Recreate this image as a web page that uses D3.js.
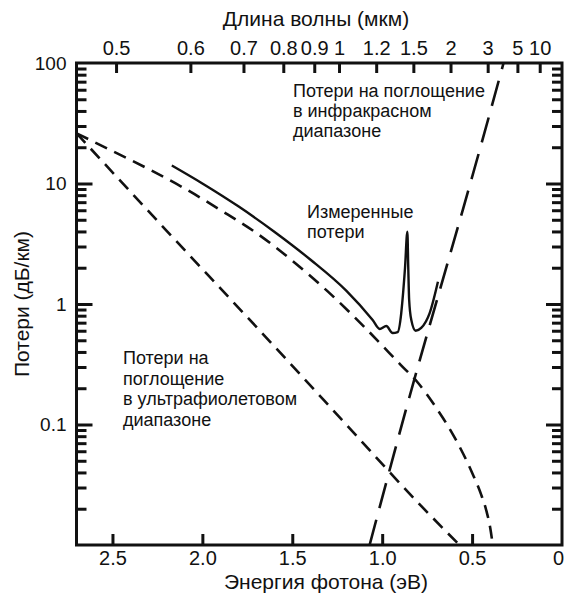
<!DOCTYPE html>
<html><head><meta charset="utf-8">
<script src="https://cdn.jsdelivr.net/npm/d3@7"></script>
<style>
html,body{margin:0;padding:0;background:#fff;}
svg{display:block;font-family:"Liberation Sans",Arial,Helvetica,sans-serif;}
</style></head>
<body>
<svg id="chart" width="566" height="603"></svg>
<script>
// ---- data ----
const energyTicks = [2.5, 2.0, 1.5, 1.0, 0.5, 0];
const energyTickLabels = ["2.5", "2.0", "1.5", "1.0", "0.5", "0"];
const wavelengthTicks = [0.5, 0.6, 0.7, 0.8, 0.9, 1, 1.2, 1.5, 2, 3, 5, 10];
const wavelengthTickLabels = ["0.5", "0.6", "0.7", "0.8", "0.9", "1", "1.2", "1.5", "2", "3", "5", "10"];
const lossTicks = [100, 10, 1, 0.1];
const lossTickLabels = ["100", "10", "1", "0.1"];

// measured loss (solid)
const measuredE    = [2.17, 2.0, 1.8, 1.6, 1.4, 1.2, 1.053, 1.014, 0.977, 0.942, 0.914, 0.894, 0.887, 0.873, 0.860, 0.855, 0.850, 0.838, 0.814, 0.783, 0.736, 0.690];
const measuredLoss = [14.1, 10.0, 6.46, 3.98, 2.34, 1.29, 0.736, 0.621, 0.657, 0.574, 0.585, 0.841, 1.08, 2.0, 3.98, 2.0, 1.08, 0.736, 0.600, 0.633, 0.841, 1.53];

// unlabeled short-dashed curve (upper)
const scatterE    = [2.7, 2.5, 2.3, 2.1, 1.9, 1.7, 1.5, 1.3, 1.1, 0.9, 0.8, 0.7, 0.6, 0.5, 0.45, 0.42, 0.40, 0.385];
const scatterLoss = [26.1, 18.6, 13.2, 9.12, 6.03, 3.89, 2.29, 1.26, 0.646, 0.316, 0.221, 0.138, 0.0794, 0.0398, 0.0263, 0.0191, 0.0141, 0.0100];

// UV absorption (short-dashed)
const uvE    = [2.7, 2.2, 1.7, 1.2, 0.8, 0.57];
const uvLoss = [26.1, 4.07, 0.646, 0.100, 0.0224, 0.0100];

// IR absorption (long-dashed)
const irE    = [1.07, 0.95, 0.85, 0.75, 0.65, 0.55, 0.45, 0.325];
const irLoss = [0.0100, 0.0468, 0.166, 0.562, 1.86, 6.17, 20.9, 100];

// ---- layout ----
const L = 76.5, R = 562, T = 63, B = 545;
const ink = "#111";
const svg = d3.select("#chart");

const x = d3.scaleLinear().domain([2.7, 0]).range([L, R]);
const y = d3.scaleLog().domain([0.01, 100]).range([B, T]);
const HC = 1.24; // eV·µm

svg.append("defs").append("clipPath").attr("id", "clip")
  .append("rect").attr("x", L).attr("y", T).attr("width", R - L).attr("height", B - T);

const zip = (a, b) => a.map((v, i) => [v, b[i]]);
const line = d3.line().x(d => x(d[0])).y(d => y(d[1])).curve(d3.curveMonotoneX);

const plot = svg.append("g").attr("clip-path", "url(#clip)");
plot.append("path").attr("d", line(zip(scatterE, scatterLoss)))
  .attr("fill", "none").attr("stroke", ink).attr("stroke-width", 2.6).attr("stroke-dasharray", "13,8");
plot.append("path").attr("d", line(zip(uvE, uvLoss)))
  .attr("fill", "none").attr("stroke", ink).attr("stroke-width", 2.6).attr("stroke-dasharray", "13,8");
plot.append("path").attr("d", line(zip(irE, irLoss)))
  .attr("fill", "none").attr("stroke", ink).attr("stroke-width", 2.6).attr("stroke-dasharray", "26,12");
plot.append("path").attr("d", line(zip(measuredE, measuredLoss)))
  .attr("fill", "none").attr("stroke", ink).attr("stroke-width", 2.4).attr("stroke-linejoin", "round");

// ---- axes ----
const tickFont = 20;
function styleAxis(g) {
  g.select(".domain").remove();
  g.selectAll(".tick line").attr("stroke", ink).attr("stroke-width", 3);
  g.selectAll(".tick text").attr("fill", ink).attr("font-size", tickFont).attr("font-family", null);
}

// bottom
svg.append("g").attr("transform", `translate(0,${B})`)
  .call(d3.axisBottom(x).tickValues(energyTicks).tickSize(-11).tickPadding(6)
    .tickFormat((d, i) => energyTickLabels[i]))
  .call(styleAxis)
  .call(g => {
    const z = g.selectAll(".tick").filter(d => d === 0);
    z.select("line").remove();
    z.select("text").attr("dx", -4);
  });

// top (wavelength)
svg.append("g").attr("transform", `translate(0,${T})`)
  .call(d3.axisTop(x).tickValues(wavelengthTicks.map(l => HC / l)).tickSize(-10).tickPadding(8)
    .tickFormat((d, i) => wavelengthTickLabels[i]))
  .call(styleAxis);

// left / right log ticks
const minorVals = y.ticks().filter(v => !lossTicks.includes(v) && v > 0.01 && v < 100);
const majorVals = [10, 1, 0.1];
svg.append("g").attr("transform", `translate(${L},0)`)
  .call(d3.axisLeft(y).tickValues(lossTicks).tickSize(0).tickPadding(10)
    .tickFormat((d, i) => lossTickLabels[i]))
  .call(styleAxis)
  .call(g => g.selectAll(".tick text").attr("font-size", 19));
[[L, d3.axisLeft], [R, d3.axisRight]].forEach(([px, ax]) => {
  svg.append("g").attr("transform", `translate(${px},0)`)
    .call(ax(y).tickValues(majorVals).tickSize(-16).tickFormat(""))
    .call(styleAxis);
  svg.append("g").attr("transform", `translate(${px},0)`)
    .call(ax(y).tickValues(minorVals).tickSize(-10).tickFormat(""))
    .call(styleAxis);
});

// frame
svg.append("rect").attr("x", L).attr("y", T).attr("width", R - L).attr("height", B - T)
  .attr("fill", "none").attr("stroke", ink).attr("stroke-width", 3);

// axis titles
svg.append("text").attr("x", 316).attr("y", 26).attr("text-anchor", "middle")
  .attr("font-size", 21).attr("fill", ink).text("Длина волны (мкм)");
svg.append("text").attr("x", 326).attr("y", 589).attr("text-anchor", "middle")
  .attr("font-size", 21).attr("fill", ink).text("Энергия фотона (эВ)");
svg.append("text").attr("transform", `translate(29,${(T + B) / 2}) rotate(-90)`).attr("text-anchor", "middle")
  .attr("font-size", 21).attr("fill", ink).text("Потери (дБ/км)");

// annotations
function note(lines, x0, y0, lh) {
  const t = svg.append("text").attr("font-size", 18).attr("fill", ink);
  lines.forEach((s, i) => t.append("tspan").attr("x", x0).attr("y", y0 + i * lh).text(s));
}
note(["Потери на поглощение", "в инфракрасном", "диапазоне"], 293, 97, 20);
note(["Измеренные", "потери"], 307, 218, 20);
note(["Потери на", "поглощение", "в ультрафиолетовом", "диапазоне"], 123, 364, 20.5);
</script>
</body></html>
